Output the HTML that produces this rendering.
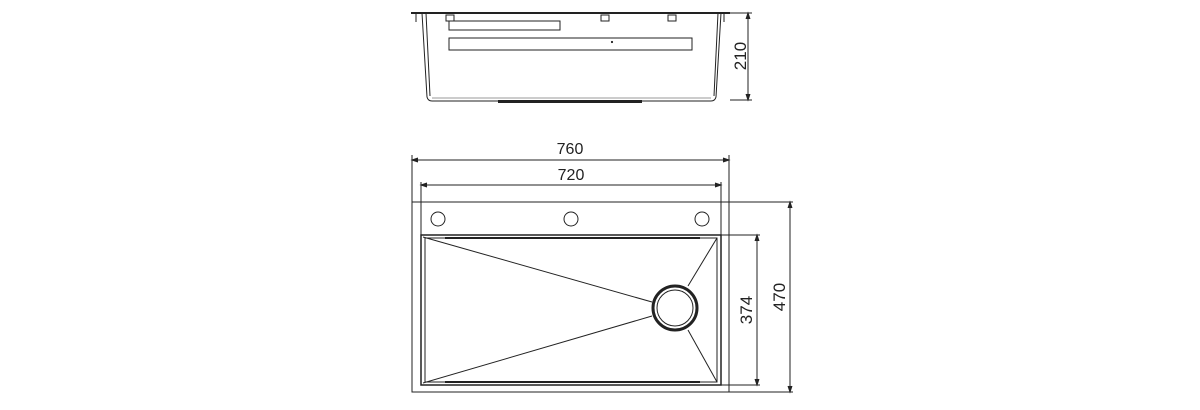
<!DOCTYPE html>
<html><head><style>body{margin:0;background:#fff}svg{display:block}</style></head>
<body>
<svg width="1200" height="410" viewBox="0 0 1200 410" xmlns="http://www.w3.org/2000/svg" font-family="Liberation Sans, sans-serif" fill="none" stroke="#222" stroke-width="1">
<!-- top side view -->
<line x1="411" y1="13" x2="730" y2="13" stroke-width="2"/>
<line x1="416" y1="13" x2="416" y2="22"/><line x1="724" y1="13" x2="724" y2="22"/>
<path d="M422 13 L427 97 Q428 101 432 101 L711 101 Q715 101 716 97 L721 13"/>
<path d="M426 13 L430 96 M718 13 L714 96"/>
<line x1="432" y1="98" x2="711" y2="98" stroke="#999"/>
<rect x="498" y="100" width="144" height="3" fill="#222" stroke="none"/>
<rect x="446" y="15" width="8" height="6"/><rect x="601" y="15" width="8" height="6"/><rect x="668" y="15" width="8" height="6"/>
<rect x="449" y="21" width="111" height="9"/>
<rect x="449" y="38" width="243" height="12"/>
<circle cx="612" cy="42" r="0.6" fill="#222"/>
<line x1="730" y1="13" x2="752" y2="13"/><line x1="730" y1="100" x2="752" y2="100"/>
<line x1="748" y1="13" x2="748" y2="100"/>
<path d="M746 19 L748 13 L750 19 M746 94 L748 100 L750 94" fill="#222"/>
<text x="746" y="56" transform="rotate(-90 746 56)" text-anchor="middle" font-size="17" fill="#222" stroke="none">210</text>
<!-- plan view -->
<rect x="412" y="202" width="317" height="190"/>
<line x1="412" y1="155" x2="412" y2="202"/><line x1="729" y1="155" x2="729" y2="202"/>
<line x1="412" y1="160" x2="729" y2="160"/>
<path d="M418 158 L412 160 L418 162 M723 158 L729 160 L723 162" fill="#222"/>
<text x="570" y="154" text-anchor="middle" font-size="16" fill="#222" stroke="none">760</text>
<line x1="421" y1="182" x2="421" y2="236"/><line x1="721" y1="182" x2="721" y2="236"/>
<line x1="421" y1="185" x2="721" y2="185"/>
<path d="M427 183 L421 185 L427 187 M715 183 L721 185 L715 187" fill="#222"/>
<text x="571" y="180" text-anchor="middle" font-size="16" fill="#222" stroke="none">720</text>
<circle cx="438" cy="219" r="7"/><circle cx="571" cy="219" r="7"/><circle cx="702" cy="219" r="7"/>
<rect x="421" y="235" width="300" height="150" stroke-width="1.5"/>
<rect x="425" y="238" width="292" height="144"/>
<line x1="445" y1="238" x2="700" y2="238" stroke-width="2"/>
<line x1="445" y1="382" x2="700" y2="382" stroke-width="2"/>
<line x1="423" y1="237" x2="652" y2="302"/>
<line x1="423" y1="383" x2="652" y2="316"/>
<line x1="717" y1="238" x2="688" y2="286"/>
<line x1="717" y1="382" x2="688" y2="330"/>
<circle cx="675" cy="308" r="22" stroke-width="3"/>
<circle cx="675" cy="308" r="18"/>
<line x1="721" y1="235" x2="760" y2="235"/><line x1="721" y1="385" x2="760" y2="385"/>
<line x1="757" y1="235" x2="757" y2="385"/>
<path d="M755 241 L757 235 L759 241 M755 379 L757 385 L759 379" fill="#222"/>
<text x="752" y="310" transform="rotate(-90 752 310)" text-anchor="middle" font-size="17" fill="#222" stroke="none">374</text>
<line x1="729" y1="202" x2="793" y2="202"/><line x1="729" y1="392" x2="793" y2="392"/>
<line x1="790" y1="202" x2="790" y2="392"/>
<path d="M788 208 L790 202 L792 208 M788 386 L790 392 L792 386" fill="#222"/>
<text x="785" y="297" transform="rotate(-90 785 297)" text-anchor="middle" font-size="17" fill="#222" stroke="none">470</text>
</svg>
</body></html>
